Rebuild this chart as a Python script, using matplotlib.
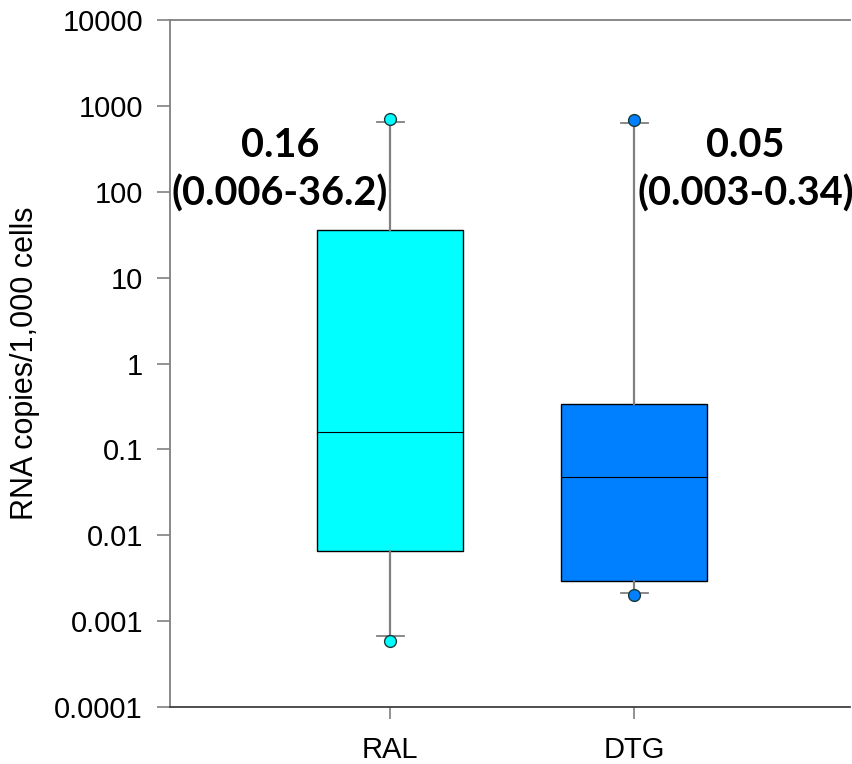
import matplotlib
matplotlib.use("Agg")
import matplotlib.pyplot as plt

# ---- data ----
groups = ["RAL", "DTG"]
medians = [0.16, 0.048]
q1 = [0.0066, 0.0029]
q3 = [36.2, 0.34]
whisker_low = [0.00067, 0.0021]
whisker_high = [650, 640]
fliers_low = [0.00059, 0.0020]
fliers_high = [700, 690]
box_colors = ["#00FFFF", "#0080FF"]
annot_median = ["0.16", "0.05"]
annot_iqr = ["(0.006-36.2)", "(0.003-0.34)"]
y_ticks = [0.0001, 0.001, 0.01, 0.1, 1, 10, 100, 1000, 10000]
y_tick_labels = ["0.0001", "0.001", "0.01", "0.1", "1", "10", "100", "1000", "10000"]
y_label = "RNA copies/1,000 cells"

fig = plt.figure(figsize=(8.52, 7.64), dpi=100)
ax = fig.add_axes([0.1995, 0.0746, 0.7985, 0.8992])

positions = [1, 2]
stats = []
for i in range(len(groups)):
    stats.append(dict(med=medians[i], q1=q1[i], q3=q3[i],
                      whislo=whisker_low[i], whishi=whisker_high[i],
                      fliers=[fliers_low[i], fliers_high[i]], label=groups[i]))

bp = ax.bxp(stats, positions=positions, widths=0.6, patch_artist=True,
            showfliers=False,
            boxprops=dict(linewidth=1.0, edgecolor="black"),
            medianprops=dict(color="black", linewidth=0.8),
            whiskerprops=dict(color="#808080", linewidth=1.6),
            capprops=dict(color="#808080", linewidth=1.3),
            capwidths=0.11)
for patch, c in zip(bp["boxes"], box_colors):
    patch.set_facecolor(c)

for i, p in enumerate(positions):
    ax.plot([p, p], [fliers_low[i], fliers_high[i]], linestyle="none",
            marker="o", markersize=8.5, markerfacecolor=box_colors[i],
            markeredgecolor="#1a3a3a", markeredgewidth=1.0, zorder=5)

ax.set_yscale("log")
ax.set_ylim(0.0001, 10000)
ax.set_xlim(0.098, 2.885)
ax.set_yticks(y_ticks)
ax.set_yticklabels(y_tick_labels)
ax.minorticks_off()
ax.set_xticks(positions)
ax.set_xticklabels(groups)

for lab in ax.get_yticklabels() + ax.get_xticklabels():
    lab.set_fontfamily("Liberation Sans")
    lab.set_fontsize(21)
ax.tick_params(axis="y", direction="out", length=9.5, width=1.2, color="#808080", pad=10)
ax.tick_params(axis="x", direction="out", length=8.6, width=1.2, color="#808080", pad=12)

ax.set_ylabel(y_label, fontfamily="Liberation Sans", fontsize=22, labelpad=10)

ax.spines["right"].set_visible(False)
for s in ["left", "top"]:
    ax.spines[s].set_color("#808080")
    ax.spines[s].set_linewidth(1.3)
ax.spines["bottom"].set_color("#404040")
ax.spines["bottom"].set_linewidth(1.3)

annot_x = [0.549, 2.455]
for i in range(len(groups)):
    ax.text(annot_x[i], 0.818, annot_median[i], transform=ax.get_xaxis_transform(),
            ha="center", va="center", fontsize=28.5, fontweight="bold", fontfamily="Lato")
    ax.text(annot_x[i], 0.748, annot_iqr[i], transform=ax.get_xaxis_transform(),
            ha="center", va="center", fontsize=28.5, fontweight="bold", fontfamily="Lato")

fig.savefig("out.png", dpi=100)
